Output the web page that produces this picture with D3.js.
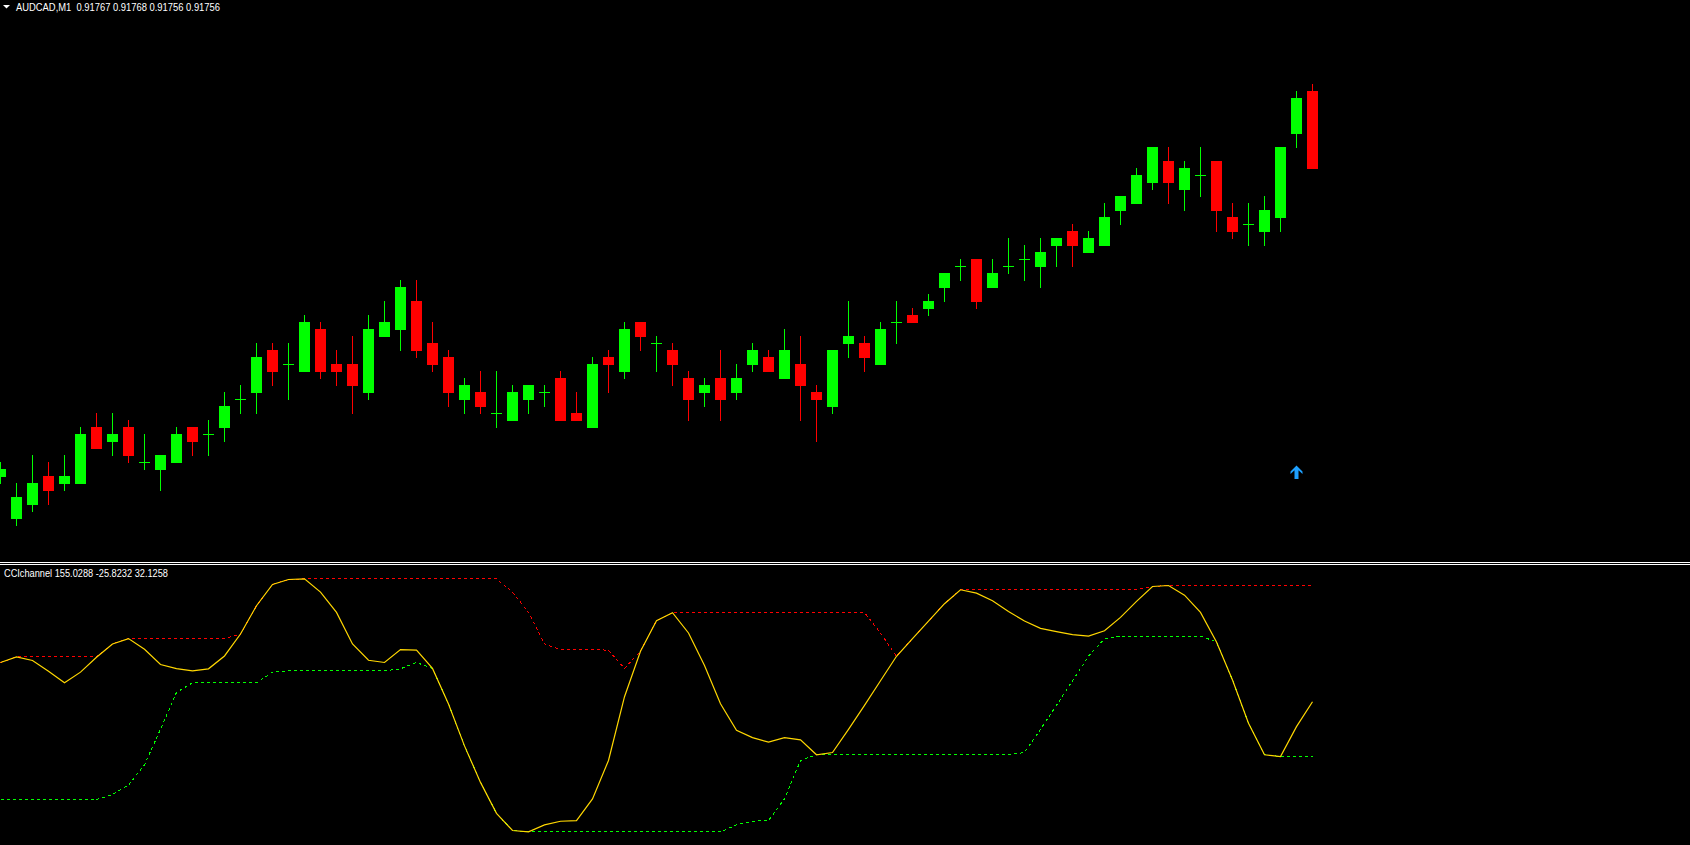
<!DOCTYPE html>
<html><head><meta charset="utf-8">
<script src="https://cdn.jsdelivr.net/npm/d3@7"></script>
<style>html,body{margin:0;padding:0;background:#000;overflow:hidden}</style>
</head><body><svg id="c" width="1690" height="845"></svg>
<script>
const symbol = "AUDCAD";
const timeframe = "M1";
const indicatorName = "CCIchannel";

const opens = [0.91712,0.91706,0.91708,0.91712,0.91711,0.91711,0.91719,0.91717,0.91719,0.91714,
0.91713,0.91714,0.91719,0.91718,0.91719,0.91723,0.91724,0.91730,0.91728,0.91727,
0.91733,0.91728,0.91728,0.91724,0.91732,0.91733,0.91737,0.91731,0.91729,0.91723,
0.91724,0.91721,0.91720,0.91723,0.91724,0.91726,0.91721,0.91719,0.91729,0.91727,
0.91734,0.91731,0.91730,0.91726,0.91724,0.91726,0.91724,0.91728,0.91729,0.91726,
0.91728,0.91724,0.91722,0.91731,0.91731,0.91728,0.91734,0.91735,0.91736,0.91739,
0.91742,0.91743,0.91739,0.91742,0.91743,0.91742,0.91745,0.91747,0.91744,0.91745,
0.91750,0.91751,0.91754,0.91757,0.91753,0.91755,0.91757,0.91749,0.91748,0.91747,
0.91749,0.91761,0.91767];
const highs = [0.91714,0.91711,0.91715,0.91714,0.91715,0.91719,0.91721,0.91721,0.91720,0.91718,
0.91715,0.91719,0.91719,0.91720,0.91724,0.91725,0.91731,0.91731,0.91731,0.91735,
0.91734,0.91730,0.91732,0.91735,0.91737,0.91740,0.91740,0.91734,0.91730,0.91726,
0.91727,0.91727,0.91725,0.91725,0.91725,0.91727,0.91724,0.91729,0.91730,0.91734,
0.91734,0.91732,0.91731,0.91727,0.91726,0.91730,0.91728,0.91731,0.91730,0.91733,
0.91732,0.91725,0.91730,0.91737,0.91732,0.91734,0.91737,0.91736,0.91738,0.91741,
0.91743,0.91743,0.91743,0.91746,0.91745,0.91746,0.91746,0.91748,0.91747,0.91751,
0.91752,0.91756,0.91759,0.91759,0.91757,0.91759,0.91757,0.91751,0.91751,0.91752,
0.91759,0.91767,0.91768];
const lows = [0.91711,0.91705,0.91707,0.91708,0.91710,0.91711,0.91716,0.91715,0.91714,0.91713,
0.91710,0.91714,0.91715,0.91715,0.91717,0.91721,0.91721,0.91725,0.91723,0.91727,
0.91726,0.91725,0.91721,0.91723,0.91732,0.91730,0.91729,0.91727,0.91722,0.91721,
0.91721,0.91719,0.91720,0.91721,0.91722,0.91720,0.91720,0.91719,0.91724,0.91726,
0.91730,0.91727,0.91725,0.91720,0.91722,0.91720,0.91723,0.91727,0.91727,0.91726,
0.91720,0.91717,0.91721,0.91729,0.91727,0.91728,0.91731,0.91734,0.91735,0.91737,
0.91740,0.91736,0.91739,0.91741,0.91740,0.91739,0.91742,0.91742,0.91744,0.91745,
0.91748,0.91751,0.91753,0.91751,0.91750,0.91752,0.91747,0.91746,0.91745,0.91745,
0.91747,0.91759,0.91756];
const closes = [0.91713,0.91709,0.91711,0.91710,0.91712,0.91718,0.91716,0.91718,0.91715,0.91714,
0.91715,0.91718,0.91717,0.91718,0.91722,0.91723,0.91729,0.91727,0.91728,0.91734,
0.91727,0.91727,0.91725,0.91733,0.91734,0.91739,0.91730,0.91728,0.91724,0.91725,
0.91722,0.91721,0.91724,0.91725,0.91724,0.91720,0.91720,0.91728,0.91728,0.91733,
0.91732,0.91731,0.91728,0.91723,0.91725,0.91723,0.91726,0.91730,0.91727,0.91730,
0.91725,0.91723,0.91730,0.91732,0.91729,0.91733,0.91734,0.91734,0.91737,0.91741,
0.91742,0.91737,0.91741,0.91742,0.91743,0.91744,0.91746,0.91745,0.91746,0.91749,
0.91752,0.91755,0.91759,0.91754,0.91756,0.91755,0.91750,0.91747,0.91748,0.91750,
0.91759,0.91766,0.91756];

const cciValues = [73.6,79.5,75.7,64.4,52.1,63.4,79.2,93.2,98.9,87.6,
71.5,67.1,64.8,66.9,80.5,103.7,133.6,156.1,161.4,162.1,
148.0,126.6,93.2,76.0,73.6,87.3,86.6,67.3,29.7,-14.6,
-53.2,-85.9,-104.1,-105.5,-98.1,-94.3,-93.6,-70.7,-30.0,37.4,
85.5,117.8,126.3,104.8,70.4,30.0,1.9,-5.8,-10.7,-5.8,
-8.2,-24.0,-21.6,2.8,28.3,54.3,80.2,98.9,117.3,135.8,
150.5,146.9,138.9,127.6,117.4,109.7,106.3,103.1,101.6,107.1,
121.3,138.2,154.0,155.0288,144.8,126.6,95.3,55.0,9.4,-24.0,
-25.8232,5.8,32.1258];
const upperChannel = [73.6,79.5,79.5,79.5,79.5,79.5,79.5,93.2,98.9,98.9,
98.9,98.9,98.9,98.9,98.9,103.7,133.6,156.1,161.4,162.1,
162.1,162.1,162.1,162.1,162.1,162.1,162.1,162.1,162.1,162.1,
162.1,162.1,148.0,126.6,93.2,87.3,87.3,87.3,86.6,67.3,
85.5,117.8,126.3,126.3,126.3,126.3,126.3,126.3,126.3,126.3,
126.3,126.3,126.3,126.3,126.3,104.8,80.2,98.9,117.3,135.8,
150.5,150.5,150.5,150.5,150.5,150.5,150.5,150.5,150.5,150.5,
150.5,150.5,154.0,155.0288,155.0288,155.0288,155.0288,155.0288,155.0288,155.0288,
155.0288,155.0288,155.0288];
const lowerChannel = [-71.4,-71.4,-71.4,-71.4,-71.4,-71.4,-71.4,-66.2,-56.0,-34.7,
3.0,42.0,52.1,52.1,52.1,52.1,52.1,63.4,64.8,64.8,
64.8,64.8,64.8,64.8,64.8,66.9,73.6,67.3,29.7,-14.6,
-53.2,-85.9,-104.1,-105.5,-105.5,-105.5,-105.5,-105.5,-105.5,-105.5,
-105.5,-105.5,-105.5,-105.5,-105.5,-105.5,-98.1,-94.3,-93.6,-70.7,
-30.0,-24.0,-24.0,-24.0,-24.0,-24.0,-24.0,-24.0,-24.0,-24.0,
-24.0,-24.0,-24.0,-24.0,-21.6,2.8,28.3,54.3,80.2,98.9,
101.6,101.6,101.6,101.6,101.6,101.6,95.3,55.0,9.4,-24.0,
-25.8232,-25.8232,-25.8232];

const signalBars = [81];
const signalPrices = [0.917135];

const W = 1690, H = 845;
const svg = d3.select("#c");
svg.append("rect").attr("width", W).attr("height", H).attr("fill", "#000");

const nBars = opens.length;
const x = d3.scaleLinear().domain([0, nBars - 1]).range([0, 1312]);
const y = d3.scaleLinear().domain([0.91700, 0.91768]).range([560, 84]);
const yi = d3.scaleLinear().domain([-25.8232, 155.0288]).range([756.5, 585.5]);

const UP = "#00ff00", DN = "#ff0000";
const bars = d3.range(nBars).map(i => ({i, o: opens[i], h: highs[i], l: lows[i], c: closes[i]}));

const gC = svg.append("g").attr("shape-rendering", "crispEdges");
const cg = gC.selectAll("g").data(bars).join("g");
cg.append("rect")
  .attr("x", d => Math.round(x(d.i)))
  .attr("width", 1)
  .attr("y", d => Math.round(y(d.h)))
  .attr("height", d => Math.round(y(d.l)) - Math.round(y(d.h)) + 1)
  .attr("fill", d => d.c >= d.o ? UP : DN);
cg.append("rect")
  .attr("x", d => Math.round(x(d.i)) - 5)
  .attr("width", 11)
  .attr("y", d => Math.round(y(Math.max(d.o, d.c))))
  .attr("height", d => Math.round(y(Math.min(d.o, d.c))) - Math.round(y(Math.max(d.o, d.c))) + 1)
  .attr("fill", d => d.c >= d.o ? UP : DN);

// signal arrow
svg.append("g").selectAll("path").data(signalBars.map((b, k) => ({b, p: signalPrices[k]}))).join("path")
  .attr("transform", d => `translate(${Math.round(x(d.b)) + 0.5},${y(d.p)})`)
  .attr("d", "M0,0 L6,6 L6,8.5 L2,4.8 L2,13.5 L-2,13.5 L-2,4.8 L-6,8.5 L-6,6 Z")
  .attr("fill", "#1ea0ff");

// header
const last = nBars - 1;
const f5 = v => v.toFixed(5);
const f4 = v => v.toFixed(4);
svg.append("path").attr("d", "M3,5 L10,5 L6.5,8.5 Z").attr("fill", "#fff");
svg.append("text").attr("x", 16).attr("y", 11)
  .attr("font-family", "Tahoma, 'Liberation Sans', 'DejaVu Sans', sans-serif")
  .attr("font-size", "10px").attr("fill", "#fff")
  .attr("textLength", 204).attr("lengthAdjust", "spacingAndGlyphs")
  .attr("xml:space", "preserve").style("white-space", "pre")
  .text(`${symbol},${timeframe}  ${f5(opens[last])} ${f5(highs[last])} ${f5(lows[last])} ${f5(closes[last])}`);

// separator
svg.append("rect").attr("x", 0).attr("y", 562).attr("width", W).attr("height", 1).attr("fill", "#fff");
svg.append("rect").attr("x", 0).attr("y", 564).attr("width", W).attr("height", 1).attr("fill", "#fff");

// indicator
const line = d3.line().x((d, i) => Math.round(x(i)) + 0.5).y(d => yi(d));
const gI = svg.append("g");
gI.append("path").attr("d", line(upperChannel)).attr("fill", "none")
  .attr("stroke", "#ff0000").attr("stroke-width", 1).attr("stroke-dasharray", "3,3")
  .attr("shape-rendering", "crispEdges");
gI.append("path").attr("d", line(lowerChannel)).attr("fill", "none")
  .attr("stroke", "#00ff00").attr("stroke-width", 1).attr("stroke-dasharray", "3,3")
  .attr("shape-rendering", "crispEdges");
gI.append("path").attr("d", line(cciValues)).attr("fill", "none")
  .attr("stroke", "#ffd700").attr("stroke-width", 1.2);

svg.append("text").attr("x", 4).attr("y", 577)
  .attr("font-family", "Tahoma, 'Liberation Sans', 'DejaVu Sans', sans-serif")
  .attr("font-size", "10px").attr("fill", "#fff")
  .attr("textLength", 164).attr("lengthAdjust", "spacingAndGlyphs")
  .text(`${indicatorName} ${f4(upperChannel[last])} ${f4(lowerChannel[last])} ${f4(cciValues[last])}`);
</script>
</body></html>
